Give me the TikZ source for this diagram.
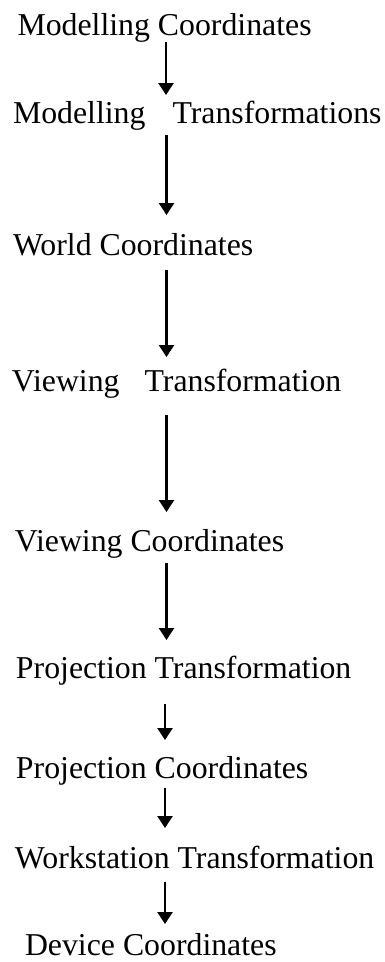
\documentclass[tikz,border=0pt]{standalone}
\usepackage{fontspec}
\setmainfont{Liberation Serif}
\usetikzlibrary{arrows.meta,calc}
\begin{document}
\begin{tikzpicture}[x=1pt,y=1pt,
  lbl/.style={anchor=base west,inner sep=0pt,outer sep=0pt,font=\fontsize{31.8}{38}\selectfont},
  arr/.style={line width=2.4pt,-{Triangle[length=12pt,width=15pt]}}]
\useasboundingbox (0,0) rectangle (384,-962);
\coordinate (ax) at (166,0);
\node[lbl] (m1) at (17.5,-35) {Modelling Coordinates};
\node[lbl] (m2) at (13,-123) {Modelling\hspace{27pt}Transformations};
\node[lbl] (w)  at (13,-255) {World Coordinates};
\node[lbl] (v)  at (12,-391) {Viewing\hspace{25pt}Transformation};
\node[lbl] (vc) at (15,-551) {Viewing Coordinates};
\node[lbl] (pt) at (16,-678) {Projection Transformation};
\node[lbl] (pc) at (16,-778) {Projection Coordinates};
\node[lbl] (wt) at (15,-868) {Workstation Transformation};
\node[lbl] (dc) at (25,-955) {Device Coordinates};
\draw[arr] ($(m1.base -| ax)+(0,-7)$) -- ($(m2.base -| ax)+(0,28)$);
\draw[arr] ($(m2.base -| ax)+(0.5,-12)$) -- ($(w.base -| ax)+(0.5,40)$);
\draw[arr] ($(w.base -| ax)+(0.5,-15)$) -- ($(v.base -| ax)+(0.5,34)$);
\draw[arr] ($(v.base -| ax)+(0.5,-24)$) -- ($(vc.base -| ax)+(0.5,39)$);
\draw[arr] ($(vc.base -| ax)+(0.5,-12)$) -- ($(pt.base -| ax)+(0.5,38)$);
\draw[arr] ($(pt.base -| ax)+(-1,-26)$) -- ($(pc.base -| ax)+(-1,38)$);
\draw[arr] ($(pc.base -| ax)+(-1,-10)$) -- ($(wt.base -| ax)+(-1,40)$);
\draw[arr] ($(wt.base -| ax)+(-1,-14)$) -- ($(dc.base -| ax)+(-1,31)$);
\end{tikzpicture}
\end{document}
